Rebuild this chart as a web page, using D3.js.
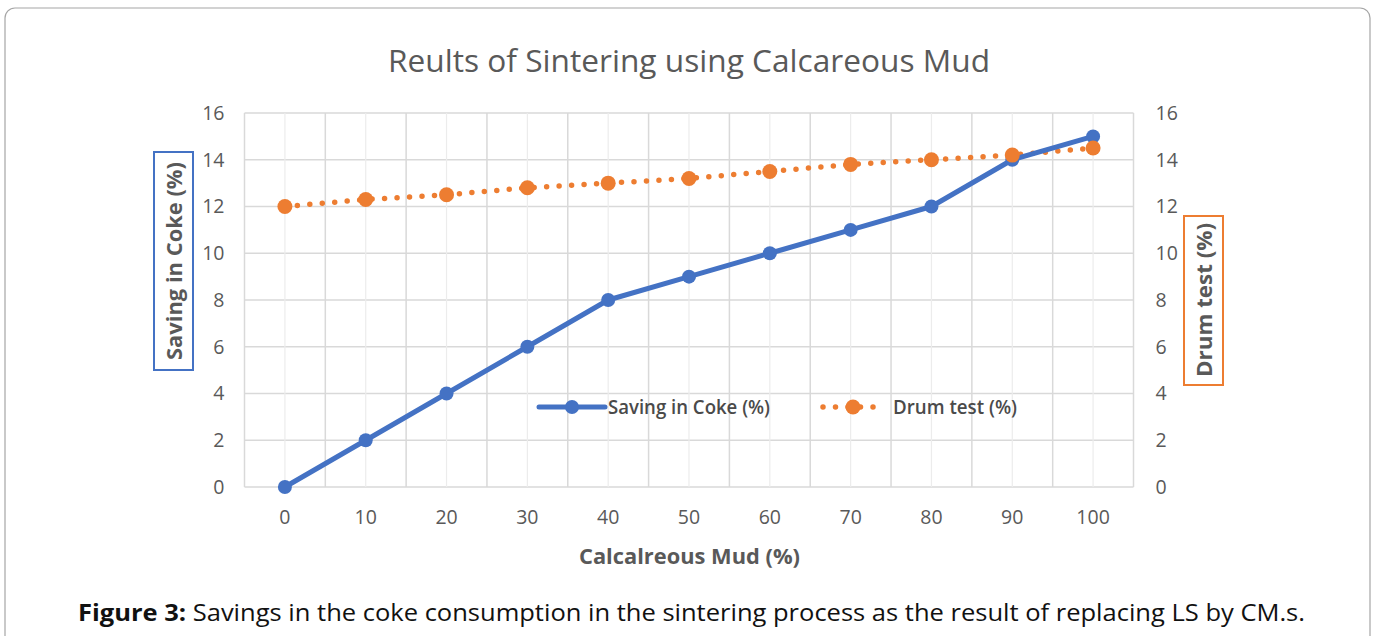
<!DOCTYPE html>
<html>
<head>
<meta charset="utf-8">
<script src="https://cdn.jsdelivr.net/npm/d3@7"></script>
<style>
  body { margin: 0; background: #fff; }
  svg { display: block; font-family: "Open Sans", sans-serif; }
</style>
</head>
<body>
<svg id="chart" width="1376" height="636"></svg>
<script>
const mudLevels = [0, 10, 20, 30, 40, 50, 60, 70, 80, 90, 100];
const cokeSaving = [0, 2, 4, 6, 8, 9, 10, 11, 12, 14, 15];
const drumTest = [12, 12.3, 12.5, 12.8, 13, 13.2, 13.5, 13.8, 14, 14.2, 14.5];
const yTicks = [0, 2, 4, 6, 8, 10, 12, 14, 16];

const svg = d3.select('#chart');
const grey = '#595959';
const blue = '#4472c4';
const orange = '#ed7d31';

// outer frame
svg.append('rect')
    .attr('x', 5).attr('y', 8)
    .attr('width', 1365).attr('height', 660)
    .attr('rx', 10)
    .attr('fill', 'none')
    .attr('stroke', '#a6a6a6')
    .attr('stroke-width', 1.2);

const x = d3.scaleBand()
              .domain(mudLevels)
              .range([244.5, 1133.5]);

const y = d3.scaleLinear()
              .domain([0, 16])
              .range([487, 113]);

const cx = d => x(d) + x.bandwidth() / 2;

// grid
const grid = svg.append('g');
grid.selectAll('.hgrid')
    .data(yTicks)
    .enter()
    .append('line')
      .attr('x1', x.range()[0]).attr('x2', x.range()[1])
      .attr('y1', d => y(d)).attr('y2', d => y(d))
      .attr('stroke', '#d9d9d9')
      .attr('stroke-width', 1.5);

grid.selectAll('.vmid')
    .data(mudLevels)
    .enter()
    .append('line')
      .attr('x1', d => cx(d)).attr('x2', d => cx(d))
      .attr('y1', y(16)).attr('y2', y(0))
      .attr('stroke', '#ececec')
      .attr('stroke-width', 1.2);

grid.selectAll('.vedge')
    .data(mudLevels.concat(['end']))
    .enter()
    .append('line')
      .attr('x1', (d, i) => x.range()[0] + i * x.bandwidth())
      .attr('x2', (d, i) => x.range()[0] + i * x.bandwidth())
      .attr('y1', y(16)).attr('y2', y(0))
      .attr('stroke', '#d9d9d9')
      .attr('stroke-width', 1.5);

// axes
const leftAxis = svg.append('g')
    .attr('transform', 'translate(' + (x.range()[0] - 20) + ',0)')
    .call(d3.axisLeft(y).tickValues(yTicks).tickSize(0).tickPadding(0));

const rightAxis = svg.append('g')
    .attr('transform', 'translate(' + (x.range()[1] + 22) + ',0)')
    .call(d3.axisRight(y).tickValues(yTicks).tickSize(0).tickPadding(0));

const bottomAxis = svg.append('g')
    .attr('transform', 'translate(0,' + (y(0) + 17) + ')')
    .call(d3.axisBottom(x).tickSize(0).tickPadding(6));

[leftAxis, rightAxis, bottomAxis].forEach(a => {
  a.select('.domain').remove();
  a.selectAll('text')
      .attr('fill', grey)
      .attr('font-size', 19.5)
      .attr('font-family', '"Open Sans", sans-serif');
});

// series
const seriesLine = d3.line()
                    .x((d, i) => cx(mudLevels[i]))
                    .y(d => y(d));

svg.append('path')
    .datum(drumTest)
    .attr('d', seriesLine)
    .attr('fill', 'none')
    .attr('stroke', orange)
    .attr('stroke-width', 5.5)
    .attr('stroke-linecap', 'round')
    .attr('stroke-dasharray', '0 12.5');

svg.append('path')
    .datum(cokeSaving)
    .attr('d', seriesLine)
    .attr('fill', 'none')
    .attr('stroke', blue)
    .attr('stroke-width', 5)
    .attr('stroke-linejoin', 'round');

svg.selectAll('.coke-dot')
    .data(cokeSaving)
    .enter()
    .append('circle')
      .attr('cx', (d, i) => cx(mudLevels[i]))
      .attr('cy', d => y(d))
      .attr('r', 7)
      .attr('fill', blue);

svg.selectAll('.drum-dot')
    .data(drumTest)
    .enter()
    .append('circle')
      .attr('cx', (d, i) => cx(mudLevels[i]))
      .attr('cy', d => y(d))
      .attr('r', 7.5)
      .attr('fill', orange);

// legend
const legend = svg.append('g').attr('transform', 'translate(0,407)');
legend.append('line')
    .attr('x1', 539).attr('x2', 605).attr('y1', 0).attr('y2', 0)
    .attr('stroke', blue).attr('stroke-width', 5).attr('stroke-linecap', 'round');
legend.append('circle').attr('cx', 572).attr('cy', 0).attr('r', 7).attr('fill', blue);
legend.append('text')
    .attr('x', 608).attr('y', 7)
    .attr('fill', '#4a4a4a').attr('font-size', 19).attr('font-weight', 600)
    .attr('textLength', 162).attr('lengthAdjust', 'spacingAndGlyphs')
    .text('Saving in Coke (%)');

legend.append('line')
    .attr('x1', 823).attr('x2', 885).attr('y1', 0).attr('y2', 0)
    .attr('stroke', orange).attr('stroke-width', 5.5).attr('stroke-linecap', 'round')
    .attr('stroke-dasharray', '0 12.5');
legend.append('circle').attr('cx', 853).attr('cy', 0).attr('r', 7.5).attr('fill', orange);
legend.append('text')
    .attr('x', 893).attr('y', 7)
    .attr('fill', '#4a4a4a').attr('font-size', 19).attr('font-weight', 600)
    .attr('textLength', 124).attr('lengthAdjust', 'spacingAndGlyphs')
    .text('Drum test (%)');

// title
svg.append('text')
    .attr('x', 689).attr('y', 72)
    .attr('text-anchor', 'middle')
    .attr('fill', grey)
    .attr('font-size', 31)
    .attr('textLength', 602).attr('lengthAdjust', 'spacingAndGlyphs')
    .text('Reults of Sintering using Calcareous Mud');

// axis titles
svg.append('text')
    .attr('x', 689.5).attr('y', 564)
    .attr('text-anchor', 'middle')
    .attr('fill', grey)
    .attr('font-size', 21)
    .attr('font-weight', 'bold')
    .attr('textLength', 221).attr('lengthAdjust', 'spacingAndGlyphs')
    .text('Calcalreous Mud (%)');

svg.append('rect')
    .attr('x', 154).attr('y', 152).attr('width', 39).attr('height', 218)
    .attr('fill', 'none').attr('stroke', blue).attr('stroke-width', 2);
svg.append('text')
    .attr('transform', 'translate(181.5,261) rotate(-90)')
    .attr('text-anchor', 'middle')
    .attr('fill', grey)
    .attr('font-size', 21)
    .attr('font-weight', 'bold')
    .attr('textLength', 198).attr('lengthAdjust', 'spacingAndGlyphs')
    .text('Saving in Coke (%)');

svg.append('rect')
    .attr('x', 1184).attr('y', 216).attr('width', 39).attr('height', 169)
    .attr('fill', 'none').attr('stroke', orange).attr('stroke-width', 2);
svg.append('text')
    .attr('transform', 'translate(1211.5,300) rotate(-90)')
    .attr('text-anchor', 'middle')
    .attr('fill', grey)
    .attr('font-size', 21)
    .attr('font-weight', 'bold')
    .attr('textLength', 154).attr('lengthAdjust', 'spacingAndGlyphs')
    .text('Drum test (%)');

// caption
const caption = svg.append('text')
    .attr('x', 691.5).attr('y', 621)
    .attr('text-anchor', 'middle')
    .attr('fill', '#111')
    .attr('font-size', 23)
    .attr('textLength', 1227).attr('lengthAdjust', 'spacingAndGlyphs');
caption.append('tspan').attr('font-weight', 'bold').text('Figure 3:');
caption.append('tspan').text(' Savings in the coke consumption in the sintering process as the result of replacing LS by CM.s.');
</script>
</body>
</html>
